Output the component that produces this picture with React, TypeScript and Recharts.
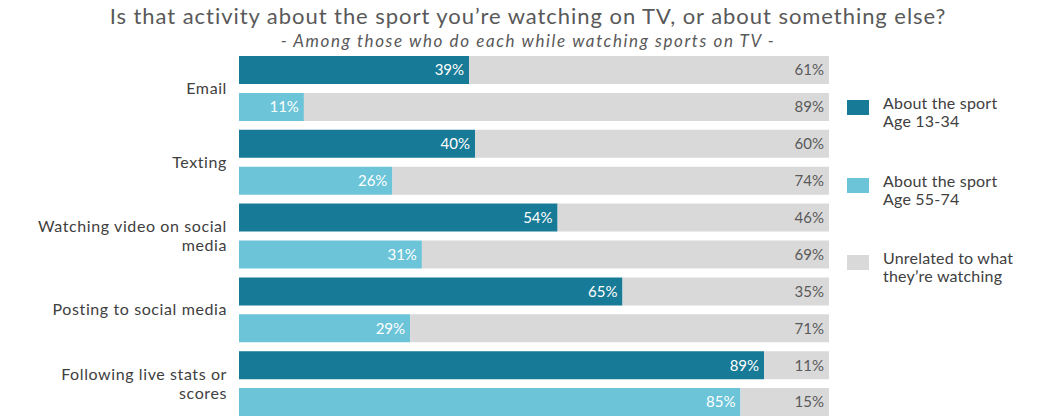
import React from 'react';
import { BarChart, Bar, XAxis, YAxis, Cell, LabelList } from 'recharts';

const categories = [
  'Email',
  'Texting',
  'Watching video on social media',
  'Posting to social media',
  'Following live stats or scores',
];
const sportYoung = [39, 40, 54, 65, 89];
const sportOld = [11, 26, 31, 29, 85];
const unrelatedYoung = [61, 60, 46, 35, 11];
const unrelatedOld = [89, 74, 69, 71, 15];

const legendItems = [
  { lines: ['About the sport', 'Age 13-34'], color: '#177A96' },
  { lines: ['About the sport', 'Age 55-74'], color: '#6BC4D8' },
  { lines: ['Unrelated to what', 'they\u2019re watching'], color: '#D9D9D9' },
];

const DARK = '#177A96';
const LIGHT = '#6BC4D8';
const GREY = '#D9D9D9';
const FONT = 'Lato, "Open Sans", sans-serif';

// two rows per category: young first, then old
const data = categories.flatMap((c, i) => [
  { key: `${c}|y`, sport: sportYoung[i], other: unrelatedYoung[i], young: true },
  { key: `${c}|o`, sport: sportOld[i], other: unrelatedOld[i], young: false },
]);

const wrap = (s: string, max: number) => {
  const words = s.split(' ');
  const lines: string[] = [];
  let cur = '';
  words.forEach((w) => {
    const next = cur ? cur + ' ' + w : w;
    if (next.length > max && cur) {
      lines.push(cur);
      cur = w;
    } else cur = next;
  });
  if (cur) lines.push(cur);
  return lines;
};

const BAND = 36.9;

const CategoryTick = (props: any) => {
  const { x, y, payload } = props;
  if (payload.index % 2 === 1) return <g />;
  const name = String(payload.value).split('|')[0];
  const lines = wrap(name, 24);
  const lh = 19;
  const cy = y + BAND / 2;
  const startY = cy - ((lines.length - 1) * lh) / 2 + 5;
  return (
    <text x={x} textAnchor="end" fill="#404040" fontSize={16} letterSpacing={0.6} fontFamily={FONT}>
      {lines.map((l, i) => (
        <tspan key={i} x={x} y={startY + i * lh}>
          {l}
        </tspan>
      ))}
    </text>
  );
};

export default function App() {
  return (
    <div style={{ position: 'absolute', left: 0, top: 0, width: 1059, height: 419, background: '#fff', fontFamily: FONT, overflow: 'hidden' }}>
      <div style={{ position: 'absolute', left: 0, width: 1056, top: 2, textAlign: 'center', fontSize: 22, letterSpacing: 0.95, color: '#595959' }}>
        Is that activity about the sport you’re watching on TV, or about something else?
      </div>
      <div style={{ position: 'absolute', left: 0, width: 1056, top: 30, textAlign: 'center', fontSize: 17, letterSpacing: 1.6, fontStyle: 'italic', color: '#595959' }}>
        - Among those who do each while watching sports on TV -
      </div>
      <BarChart
        width={1059}
        height={421}
        data={data}
        layout="vertical"
        margin={{ top: 52, right: 230, bottom: 0, left: 0 }}
      >
        <XAxis type="number" domain={[0, 100]} hide />
        <YAxis
          type="category"
          dataKey="key"
          width={239}
          axisLine={false}
          tickLine={false}
          tickMargin={6}
          interval={0}
          tick={<CategoryTick />}
        />
        <Bar dataKey="sport" stackId="a" barSize={28} isAnimationActive={false}>
          {data.map((d, i) => (
            <Cell key={i} fill={d.young ? DARK : LIGHT} />
          ))}
          <LabelList
            dataKey="sport"
            position="insideRight"
            fill="#FFFFFF"
            fontSize={15}
            fontFamily={FONT}
            formatter={(v: any) => `${v}%`}
          />
        </Bar>
        <Bar dataKey="other" stackId="a" barSize={28} fill={GREY} isAnimationActive={false}>
          <LabelList
            dataKey="other"
            position="insideRight"
            fill="#595959"
            fontSize={15}
            fontFamily={FONT}
            formatter={(v: any) => `${v}%`}
          />
        </Bar>
      </BarChart>
      {legendItems.map((item, i) => (
        <div key={i} style={{ position: 'absolute', left: 847, top: 94 + i * 77.5, display: 'flex', alignItems: 'flex-start' }}>
          <div style={{ width: 22, height: 15, background: item.color, marginTop: 6 }} />
          <div style={{ marginLeft: 14, fontSize: 16, lineHeight: '18px', letterSpacing: 0.2, color: '#404040' }}>
            {item.lines.map((l, j) => (
              <div key={j}>{l}</div>
            ))}
          </div>
        </div>
      ))}
    </div>
  );
}
